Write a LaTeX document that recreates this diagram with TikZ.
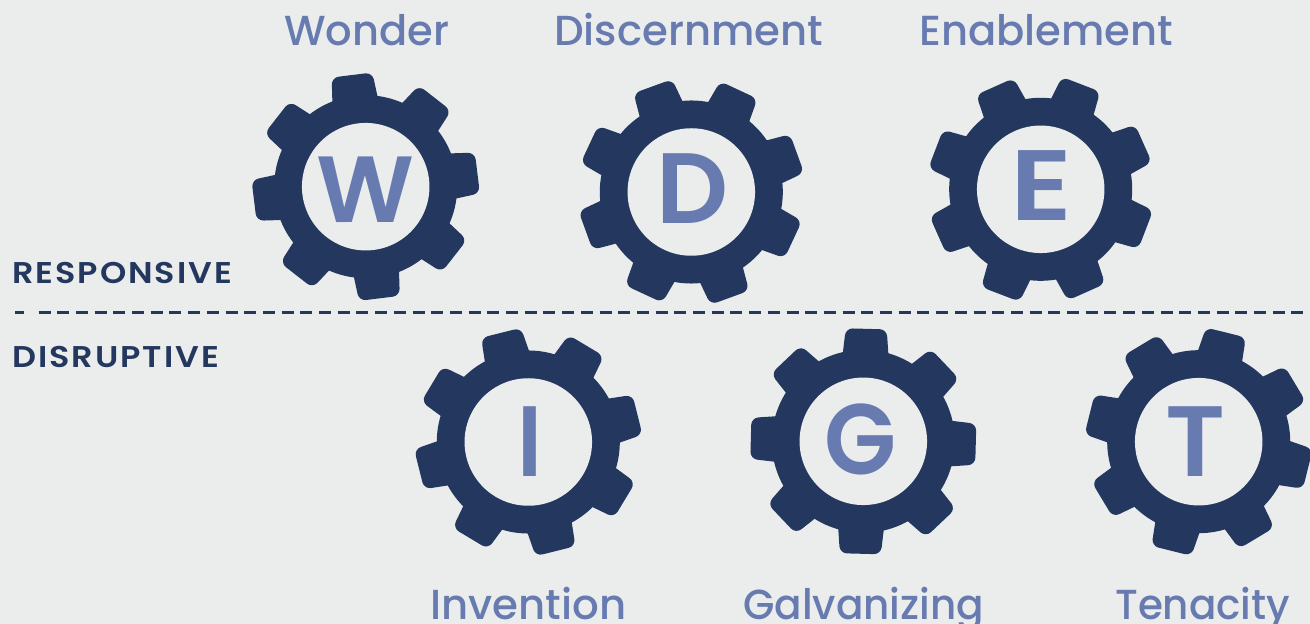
\documentclass[tikz,border=0pt]{standalone}
\usepackage{fontspec}
\usepackage{graphicx}
\setmainfont{Poppins}
\newfontfamily\mediumfont{Poppins Medium}
\newfontfamily\semifont{Poppins SemiBold}
\newfontfamily\spacedfont{Poppins SemiBold}[LetterSpace=6]
\definecolor{bgc}{HTML}{EBEDED}
\definecolor{navy}{HTML}{24385F}
\definecolor{steel}{HTML}{677BB0}
\newcommand{\fitx}[2]{\setbox0\hbox{#2}\pgfmathparse{#1/\the\wd0}\scalebox{\pgfmathresult}[1]{\box0}}
\newcommand{\fsz}[1]{\fontsize{#1pt}{#1pt}\selectfont}
\tikzset{
  x=1pt,y=1pt,
  geartooth/.style={fill=navy,rounded corners=7pt},
  gearbody/.style={fill=navy},
  hub/.style={circle,fill=bgc,minimum size=127.5pt,inner sep=0pt},
  lettermark/.style={text=steel,anchor=base,inner sep=0pt,font=\semifont},
  virtue/.style={text=steel,anchor=base west,inner sep=0pt,font=\mediumfont},
  axislabel/.style={text=navy,anchor=base west,inner sep=0pt,font=\spacedfont},
  divider/.style={draw=navy,line width=3pt}
}
% name, centre x, centre y (from top), rotation, letter, letter centre x, letter baseline (from top), letter width, font size
\newcommand{\gearat}[9]{
  \begin{scope}[shift={(#2,624-#3)},rotate=#4]
    \fill[gearbody] (0,0) circle (91.5);
    \foreach \a in {0,45,...,315}{
      \fill[geartooth,rotate=\a] (80,-23.5) -- (112.5,-20.5) -- (112.5,20.5) -- (80,23.5) -- cycle;
    }
  \end{scope}
  \node[hub] (#1) at (#2,624-#3) {};
  \node[lettermark] (#1-letter) at (#6,624-#7) {\fsz{#9}\fitx{#8}{#5}};
}
\begin{document}
\begin{tikzpicture}
\useasboundingbox (0,0) rectangle (1310,624);
\fill[bgc] (0,0) rectangle (1310,624);
\gearat{w}{365.7}{186.7}{7}{W}{365.5}{222.3}{98}{94}
\gearat{d}{691.3}{192}{20}{D}{692.5}{224}{72}{100}
\gearat{e}{1040.7}{189.3}{24}{E}{1041}{221}{62}{100}
\gearat{i}{528.3}{442}{14}{I}{529.5}{476.3}{25}{100}
\gearat{g}{863.3}{441.3}{-1.5}{G}{860.5}{475}{72}{100}
\gearat{t}{1198.7}{441.7}{31}{T}{1195.5}{476.7}{60}{100}
\coordinate (la) at (15,624-313);
\coordinate (lb) at (24,624-313);
\coordinate (lc) at (38.5,624-313);
\coordinate (ld) at (1305,624-313);
\draw[divider] (la) -- (lb);
\draw[divider,dash pattern=on 12pt off 6.7pt] (lc) -- (ld);
\node[axislabel] (resp) at (12,624-283.7) {\fsz{30}\fitx{220}{RESPONSIVE}};
\node[axislabel] (disr) at (12,624-367.7) {\fsz{30}\fitx{207}{DISRUPTIVE}};
\node[virtue] (wonder) at (284,624-46) {\fsz{42}\fitx{165}{Wonder}};
\node[virtue] (disc) at (554,624-46) {\fsz{42}\fitx{269}{Discernment}};
\node[virtue] (enab) at (919,624-46) {\fsz{42}\fitx{254}{Enablement}};
\node[virtue] (inv) at (430,624-620) {\fsz{42}\fitx{196}{Invention}};
\node[virtue] (galv) at (743,624-620) {\fsz{42}\fitx{241}{Galvanizing}};
\node[virtue] (ten) at (1115,624-620) {\fsz{42}\fitx{175}{Tenacity}};
\end{tikzpicture}
\end{document}
